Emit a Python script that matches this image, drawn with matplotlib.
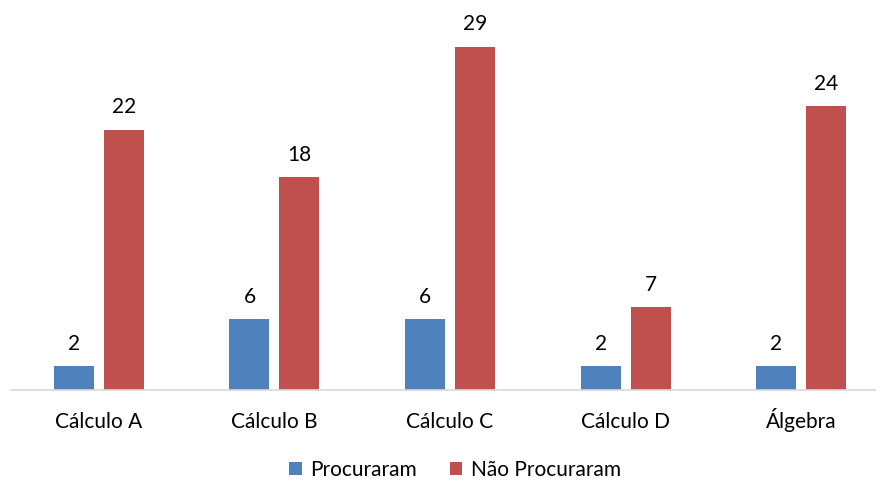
import matplotlib
matplotlib.use("Agg")
import matplotlib.pyplot as plt
import numpy as np

# dados do gráfico
categorias = ["Cálculo A", "Cálculo B", "Cálculo C", "Cálculo D", "Álgebra"]
procuraram = [2, 6, 6, 2, 2]
nao_procuraram = [22, 18, 29, 7, 24]

cor_azul = "#4F81BD"
cor_vermelho = "#C0504D"

plt.rcParams['font.family'] = ['Lato', 'DejaVu Sans']

fig = plt.figure(figsize=(8.76, 4.83), dpi=100)
# eixo: linha base em y~390 px, de x~11 px ate alem da borda direita
ax = fig.add_axes([11 / 876, 93 / 483, 878 / 876, 385 / 483])

x = np.arange(len(categorias))
largura = 0.228
desloc = 0.142

b1 = ax.bar(x - desloc, procuraram, largura, color=cor_azul, label="Procuraram")
b2 = ax.bar(x + desloc, nao_procuraram, largura, color=cor_vermelho, label="Não Procuraram")

for barras in (b1, b2):
    for b in barras:
        ax.annotate(str(int(b.get_height())),
                    (b.get_x() + b.get_width() / 2, b.get_height()),
                    xytext=(0, 9), textcoords="offset points",
                    ha="center", va="bottom", fontsize=15)

ax.set_xlim(-0.5, len(categorias) - 0.5)
ax.set_ylim(0, 32.55)
ax.set_xticks(x)
ax.set_xticklabels(categorias, fontsize=15, va="baseline")
ax.tick_params(axis="x", length=0, pad=27)
ax.set_yticks([])
for lado in ("top", "right", "left"):
    ax.spines[lado].set_visible(False)
ax.spines["bottom"].set_color("#D9D9D9")
ax.spines["bottom"].set_linewidth(1.2)

fig.legend(handles=[b1, b2], loc="center", bbox_to_anchor=(455 / 876, 1 - 470 / 483),
           ncol=2, frameon=False, fontsize=15, handlelength=0.6, handleheight=0.6,
           handletextpad=0.4, columnspacing=1.6)

fig.savefig("out.png", dpi=100)
